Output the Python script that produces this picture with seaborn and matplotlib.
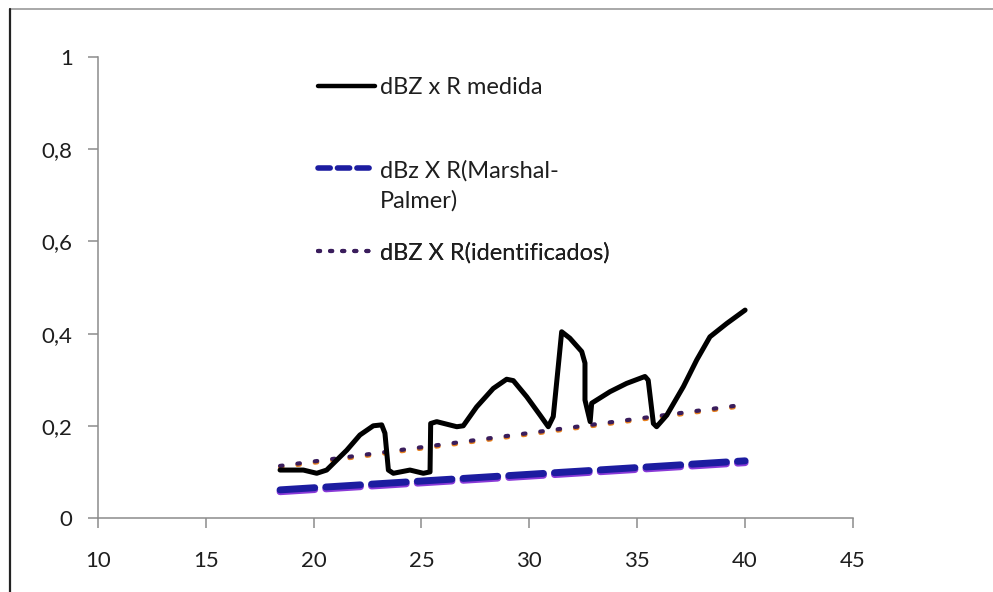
import matplotlib
matplotlib.use("Agg")
import matplotlib.pyplot as plt
import seaborn as sns
import numpy as np
import pandas as pd
from matplotlib.lines import Line2D

# ---- data ----
medida_x = [18.45, 19.53, 20.15, 20.61, 21.54, 22.15, 22.77, 23.16, 23.31, 23.47,
            23.70, 24.47, 25.09, 25.40, 25.43, 25.71, 26.64, 26.94, 27.56, 28.33,
            28.95, 29.26, 29.88, 30.50, 30.88, 31.11, 31.34, 31.50, 31.88, 32.43,
            32.58, 32.58, 32.82, 32.89, 33.74, 34.51, 35.36, 35.51, 35.75, 35.90,
            36.37, 37.14, 37.76, 38.37, 39.15, 40.00]
medida_y = [0.104, 0.104, 0.097, 0.104, 0.147, 0.180, 0.200, 0.202, 0.184, 0.104,
            0.097, 0.104, 0.097, 0.100, 0.205, 0.209, 0.198, 0.200, 0.241, 0.281,
            0.301, 0.298, 0.263, 0.223, 0.198, 0.220, 0.328, 0.404, 0.390, 0.361,
            0.336, 0.256, 0.209, 0.249, 0.274, 0.292, 0.307, 0.299, 0.205, 0.198,
            0.223, 0.285, 0.343, 0.393, 0.422, 0.451]

mp_x = [18.45, 40.0]
mp_y = [0.061, 0.124]
mp2_y = [0.057, 0.120]

ident_x = [18.45, 39.8]
ident_y = [0.113, 0.245]
ident2_y = [0.110, 0.242]

x_ticks = [10, 15, 20, 25, 30, 35, 40, 45]
y_ticks = [0, 0.2, 0.4, 0.6, 0.8, 1.0]
y_tick_labels = ["0", "0,2", "0,4", "0,6", "0,8", "1"]

labels = ["dBZ x R medida", "dBz X R(Marshal-\nPalmer)", "dBZ X R(identificados)"]

# ---- style ----
sns.set_style("white")
plt.rcParams['font.family'] = ['Lato', 'DejaVu Sans']

W, H = 993, 592
fig = plt.figure(figsize=(W / 100, H / 100), dpi=100)
ax = fig.add_axes([97.7 / W, (H - 518) / H, (853 - 97.7) / W, (518 - 57) / H])

BLUE = "#1c1ca0"
PURPLE = "#8a3ad8"
DOTP = "#3a1d5c"
ORANGE = "#e8811e"
TXT = "#1e1e1e"

# Marshal-Palmer (dashed): purple underlay + blue
sns.lineplot(x=mp_x, y=mp2_y, ax=ax, color=PURPLE, lw=5, estimator=None, sort=False)
ax.lines[-1].set_dashes((5, 1.6))
ax.lines[-1].set_dash_capstyle('round')
sns.lineplot(x=mp_x, y=mp_y, ax=ax, color=BLUE, lw=5, estimator=None, sort=False)
ax.lines[-1].set_dashes((5, 1.6))
ax.lines[-1].set_dash_capstyle('round')

# identificados (dotted)
sns.lineplot(x=ident_x, y=ident2_y, ax=ax, color=ORANGE, lw=3, estimator=None, sort=False)
ax.lines[-1].set_dashes((0.6, 3.6))
ax.lines[-1].set_dash_capstyle('round')
sns.lineplot(x=ident_x, y=ident_y, ax=ax, color=DOTP, lw=3, estimator=None, sort=False)
ax.lines[-1].set_dashes((0.6, 3.6))
ax.lines[-1].set_dash_capstyle('round')

# medida (solid black)
sns.lineplot(x=medida_x, y=medida_y, ax=ax, color="black", lw=3.6, estimator=None,
             sort=False)
ax.lines[-1].set_solid_joinstyle('round')
ax.lines[-1].set_solid_capstyle('round')

ax.set_xlim(10, 45)
ax.set_ylim(0, 1)
ax.set_xticks(x_ticks)
ax.set_xticklabels([str(v) for v in x_ticks])
ax.set_yticks(y_ticks)
ax.set_yticklabels(y_tick_labels)
ax.set_xlabel("")
ax.set_ylabel("")

for s in ["top", "right"]:
    ax.spines[s].set_visible(False)
for s in ["left", "bottom"]:
    ax.spines[s].set_color("#8c8c8c")
    ax.spines[s].set_linewidth(1.1)

ax.tick_params(axis='x', direction='out', length=7, width=1.1, color="#8c8c8c",
               pad=17, labelsize=16, labelcolor=TXT)
ax.tick_params(axis='y', direction='out', length=7, width=1.1, color="#8c8c8c",
               pad=11, labelsize=16, labelcolor=TXT)
ax.tick_params(left=True, bottom=True)

# ---- legends (three separate entries, positioned as in picture) ----
handles = [
    Line2D([], [], color="black", lw=3.2),
    Line2D([], [], color=BLUE, lw=4, dashes=(2.2, 1.3), dash_capstyle='round'),
    Line2D([], [], color=DOTP, lw=3, dashes=(0.5, 2.4), dash_capstyle='round'),
]
ys = [88, 186, 253]
for h, lab, yy in zip(handles, labels, ys):
    leg = ax.legend([h], [lab], loc='center left', frameon=False,
                    bbox_to_anchor=(318 / W, 1 - yy / H), bbox_transform=fig.transFigure,
                    borderpad=0, borderaxespad=0, handlelength=2.4, handletextpad=0.22,
                    fontsize=17, labelcolor=TXT)
    for t in leg.get_texts():
        t.set_linespacing(1.45)
    ax.add_artist(leg)
    if yy == 186:
        hl = leg.legend_handles[0]
        yd = np.asarray(hl.get_ydata(), dtype=float)
        hl.set_ydata(yd + 13)

# ---- figure border ----
fig.add_artist(Line2D([10 / W, 1], [1 - 9 / H, 1 - 9 / H], transform=fig.transFigure,
                      color="#9a9a9a", lw=1.2))
fig.add_artist(Line2D([10 / W, 10 / W], [0, 1 - 9 / H], transform=fig.transFigure,
                      color="#222222", lw=1.6))

fig.savefig("out.png", dpi=100)
